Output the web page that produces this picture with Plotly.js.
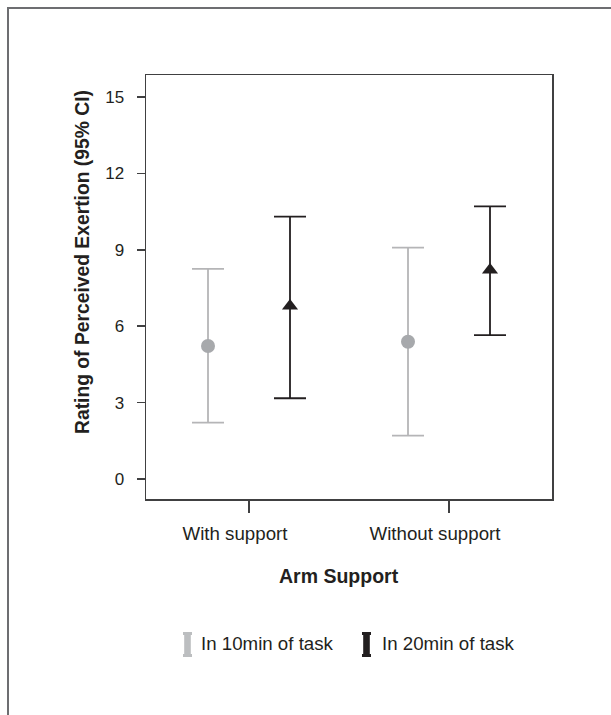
<!DOCTYPE html>
<html>
<head>
<meta charset="utf-8">
<script src="https://cdn.plot.ly/plotly-3.0.1.min.js"></script>
<style>
  html, body { margin: 0; padding: 0; background: #ffffff; }
  #wrap { position: relative; width: 611px; height: 715px; overflow: hidden; }
  #frame { position: absolute; left: 7px; top: 7px; width: 700px; height: 800px;
           border-left: 2px solid #6d6e71; border-top: 2px solid #6d6e71; pointer-events: none; }
  #chart { position: absolute; left: 0; top: 0; width: 611px; height: 715px; }
</style>
</head>
<body>
<div id="wrap">
  <div id="chart"></div>
  <div id="frame"></div>
</div>
<script>
// ---- data ----
const categories = ["With support", "Without support"];
const seriesNames = ["In 10min of task", "In 20min of task"];
const mean10 = [5.22, 5.39];
const lower10 = [2.21, 1.70];
const upper10 = [8.25, 9.08];
const mean20 = [6.79, 8.20];
const lower20 = [3.17, 5.65];
const upper20 = [10.30, 10.70];
const yTickVals = [0, 3, 6, 9, 12, 15];

// ---- style ----
const GREY_LINE = "#b5b5b7";
const GREY_MARK = "#a7a9ac";
const BLACK = "#231f20";
const AXIS = "#404041";
const FONT = "Liberation Sans, Arial, sans-serif";

// plot area in pixels
const W = 611, H = 715;
const L = 146, R = 552, T = 75, B = 499;
const px = x => (x - L) / (R - L);
const py = y => (B - y) / (B - T);

function trace(name, mean, lo, hi, color, lineColor, symbol, offset) {
  return {
    type: "scatter",
    mode: "markers",
    name: name,
    x: categories.map((c, i) => i + offset),
    y: mean,
    marker: { symbol: symbol, size: 14, color: color, line: { width: 0 } },
    error_y: {
      type: "data", symmetric: false,
      array: hi.map((v, i) => v - mean[i]),
      arrayminus: mean.map((v, i) => v - lo[i]),
      color: lineColor, thickness: 1.8, width: 16
    },
    showlegend: false,
    hoverinfo: "skip"
  };
}

const data = [
  trace(seriesNames[0], mean10, lower10, upper10, GREY_MARK, GREY_LINE, "circle", -0.205),
  trace(seriesNames[1], mean20, lower20, upper20, BLACK, BLACK, "triangle-up", 0.205)
];

const annotations = [
  { text: "Rating of Perceived Exertion (95% CI)", xref: "paper", yref: "paper",
    x: px(82), y: py(262), xanchor: "center", yanchor: "middle", textangle: -90,
    showarrow: false, font: { family: FONT, size: 19.3, color: BLACK, weight: "bold" } },
  { text: "<b>Arm Support</b>", xref: "paper", yref: "paper",
    x: px(339), y: py(576), xanchor: "center", yanchor: "middle",
    showarrow: false, font: { family: FONT, size: 19.5, color: BLACK } },
  { text: seriesNames[0], xref: "paper", yref: "paper",
    x: px(199), y: py(643), xanchor: "left", yanchor: "middle",
    showarrow: false, font: { family: FONT, size: 18.7, color: BLACK } },
  { text: seriesNames[1], xref: "paper", yref: "paper",
    x: px(380), y: py(643), xanchor: "left", yanchor: "middle",
    showarrow: false, font: { family: FONT, size: 18.7, color: BLACK } }
];

function swatch(x0, y0, color) {
  // I-beam style swatch (legend key), in pixels -> paper
  const w = 9, h = 25, n = 1.2, c = 3;
  const pts = [
    [x0, y0], [x0 + w, y0], [x0 + w, y0 + c], [x0 + w - n, y0 + c], [x0 + w - n, y0 + h - c],
    [x0 + w, y0 + h - c], [x0 + w, y0 + h], [x0, y0 + h], [x0, y0 + h - c], [x0 + n, y0 + h - c],
    [x0 + n, y0 + c], [x0, y0 + c]
  ];
  const path = pts.map((p, i) => (i ? "L" : "M") + px(p[0]).toFixed(5) + "," + py(p[1]).toFixed(5)).join(" ") + " Z";
  return { type: "path", xref: "paper", yref: "paper", path: path,
           fillcolor: color, line: { width: 0 } };
}

const layout = {
  width: W, height: H,
  margin: { l: L, r: W - R, t: T, b: H - B, pad: 0 },
  paper_bgcolor: "rgba(0,0,0,0)",
  plot_bgcolor: "#ffffff",
  font: { family: FONT, color: BLACK },
  showlegend: false,
  xaxis: {
    range: [-0.515, 1.515],
    tickmode: "array",
    tickvals: categories.map((c, i) => i),
    ticktext: categories,
    ticks: "outside", ticklen: 12, tickwidth: 1.5, tickcolor: AXIS,
    showline: true, linecolor: AXIS, linewidth: 1.5, mirror: true,
    showgrid: false, zeroline: false,
    tickfont: { family: FONT, size: 18.7, color: BLACK },
    ticklabelshift: -14, ticklabelstandoff: 5,
    fixedrange: true
  },
  yaxis: {
    range: [-0.785, 15.86],
    tickmode: "array", tickvals: yTickVals,
    ticks: "outside", ticklen: 8, tickwidth: 1.5, tickcolor: AXIS,
    showline: true, linecolor: AXIS, linewidth: 1.5, mirror: true,
    showgrid: false, zeroline: false,
    tickfont: { family: FONT, size: 17, color: BLACK },
    ticklabelstandoff: 9,
    fixedrange: true
  },
  annotations: annotations,
  shapes: [swatch(183, 632, "#bcbec0"), swatch(362, 632, BLACK)]
};

Plotly.newPlot("chart", data, layout, { displayModeBar: false, staticPlot: true });
</script>
</body>
</html>
